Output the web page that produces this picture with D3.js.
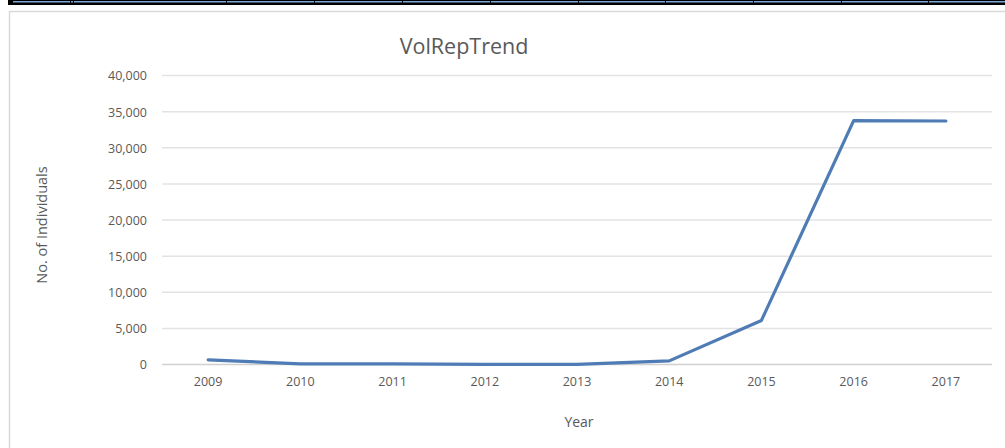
<!DOCTYPE html>
<html><head><meta charset="utf-8">
<script src="https://cdn.jsdelivr.net/npm/d3@7"></script>
<style>body{margin:0;background:#fff;}svg{display:block;font-family:"Open Sans","Liberation Sans",sans-serif;}</style>
</head><body>
<script>
const years = ["2009","2010","2011","2012","2013","2014","2015","2016","2017"];
const values = [650, 80, 100, 20, 10, 500, 6100, 33750, 33700];
const yTicks = [0,5000,10000,15000,20000,25000,30000,35000,40000];
const title = "VolRepTrend";
const xTitle = "Year";
const yTitle = "No. of Individuals";

(function(){
const W = 1005, H = 448;
const FONT = '"Open Sans","Liberation Sans",sans-serif';
const svg = d3.select("body").append("svg").attr("width", W).attr("height", H);

// top spreadsheet strip
svg.append("rect").attr("x",8).attr("y",0).attr("width",W-8).attr("height",5).attr("fill","#000");
svg.append("rect").attr("x",13).attr("y",1).attr("width",W-13).attr("height",1.5).attr("fill","#7ea6d8");
[70,73,226,314,402,490,578,665,753,841,928].forEach(xp=>{
  svg.append("rect").attr("x",xp).attr("y",0).attr("width",1).attr("height",3).attr("fill","#000");
});

// chart frame
svg.append("rect").attr("x",9.5).attr("y",11.5).attr("width",W).attr("height",H)
  .attr("fill","#fff").attr("stroke","#d9d9d9").attr("stroke-width",1.5);

const pLeft = 162, pRight = 992, pTop = 75.5, pBottom = 364.5;
const x = d3.scaleBand().domain(years).range([pLeft, pRight]);
const y = d3.scaleLinear().domain([0, 40000]).range([pBottom, pTop]);

// gridlines
svg.append("g").selectAll("line").data(yTicks).join("line")
  .attr("x1", pLeft).attr("x2", pRight)
  .attr("y1", d=>y(d)).attr("y2", d=>y(d))
  .attr("stroke", d=> d===0 ? "#d0d0d0" : "#e3e3e3").attr("stroke-width", 1.5);

// y axis
const yAxis = svg.append("g").attr("transform",`translate(${pLeft-15},0)`)
  .call(d3.axisLeft(y).tickValues(yTicks).tickSize(0).tickPadding(0).tickFormat(d3.format(",")));
yAxis.attr("font-family", FONT).attr("font-size", 12.5);
yAxis.select(".domain").remove();
yAxis.selectAll("text").attr("fill","#595959").attr("dy","0.35em");

// x axis
const xAxis = svg.append("g").attr("transform",`translate(0,${pBottom+13})`)
  .call(d3.axisBottom(x).tickSize(0).tickPadding(0));
xAxis.attr("font-family", FONT).attr("font-size", 12.5);
xAxis.select(".domain").remove();
xAxis.selectAll("text").attr("fill","#595959").attr("dy","0.71em");

// line
const line = d3.line().x((d,i)=>x(years[i])+x.bandwidth()/2).y(d=>y(d));
svg.append("path").datum(values).attr("d", line)
  .attr("fill","none").attr("stroke","#4f7cb5").attr("stroke-width",3.2)
  .attr("stroke-linejoin","round").attr("stroke-linecap","round");

// titles
svg.append("text").attr("x",464).attr("y",54).attr("text-anchor","middle")
  .attr("fill","#595959").style("font-size","21.5px").text(title);
svg.append("text").attr("x",579).attr("y",427).attr("text-anchor","middle")
  .attr("fill","#595959").style("font-size","14px").text(xTitle);
svg.append("text").attr("transform","translate(47,225) rotate(-90)").attr("text-anchor","middle")
  .attr("fill","#595959").style("font-size","14.5px").text(yTitle);
})();
</script>
</body></html>
